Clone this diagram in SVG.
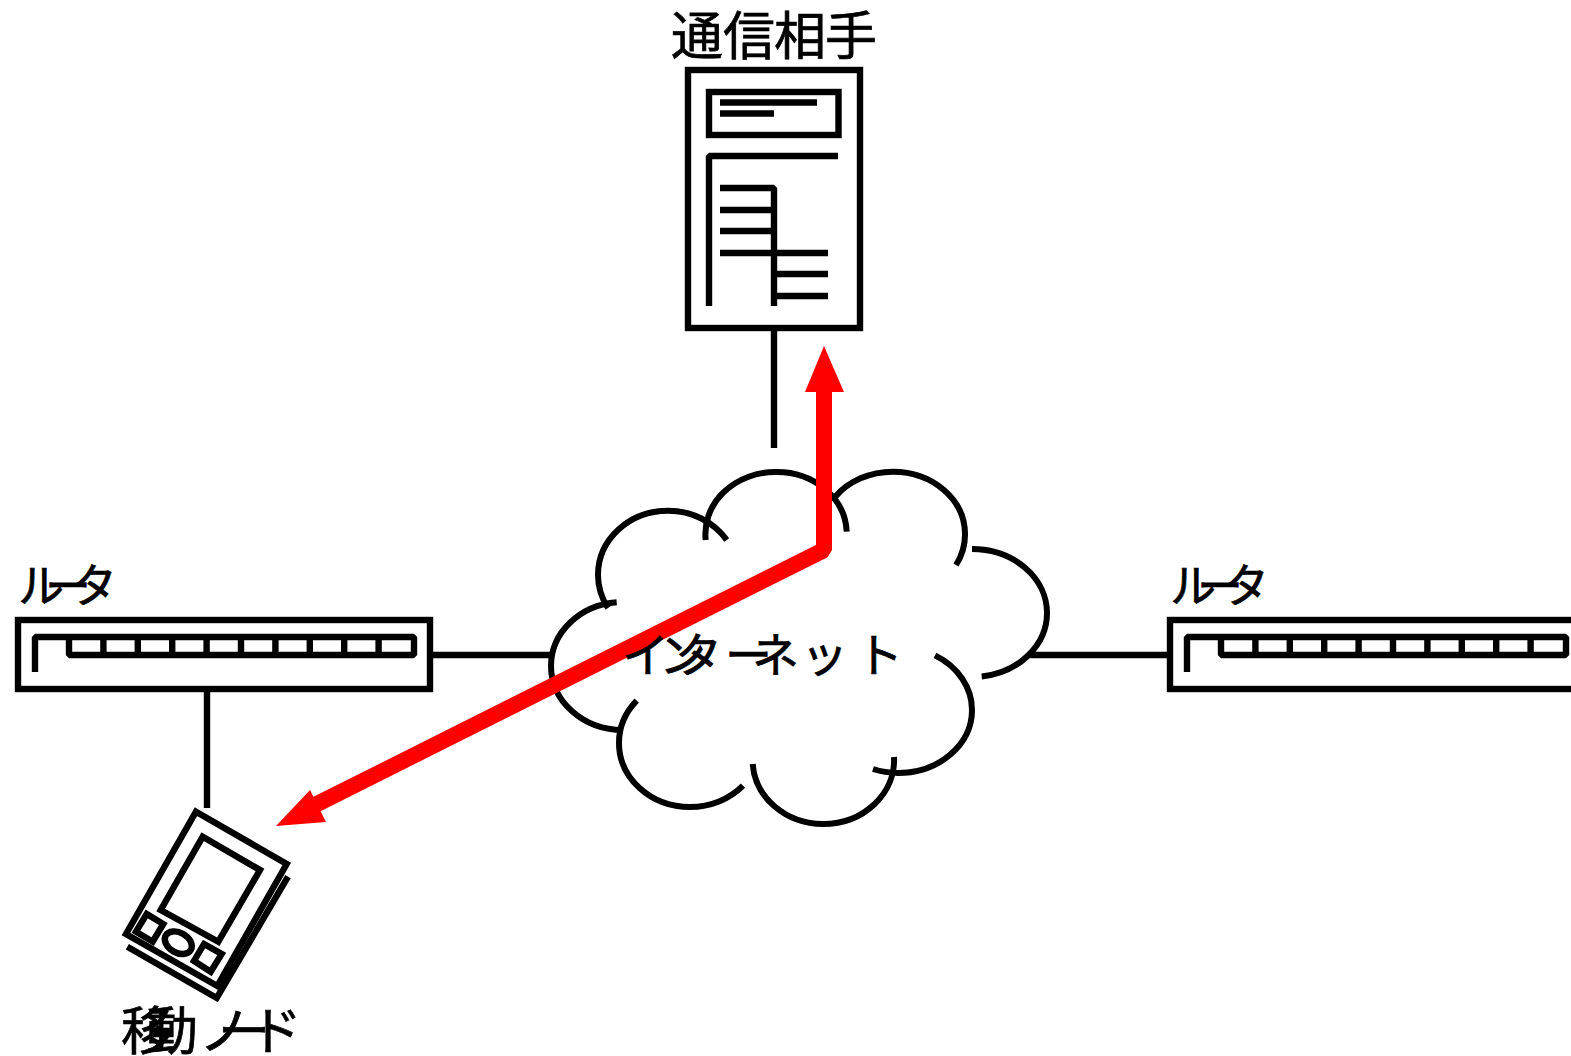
<svg xmlns="http://www.w3.org/2000/svg" width="1571" height="1056" viewBox="0 0 1571 1056">
<style>
.s{fill:none;stroke:#000;stroke-width:6.400}
.b{stroke-linejoin:bevel}
.c{fill:none;stroke:#000;stroke-width:6}
text{font-family:"Noto Sans CJK JP","Noto Sans",sans-serif;fill:#000;stroke:#000;stroke-width:.7}
.r{fill:#f00}
</style>
<defs>
<g id="router">
<rect class="s" x="18" y="620" width="412" height="69"/>
<path class="s b" d="M35 672V637H414V655H69V637M103.400 637V655M137.800 637V655M172.200 637V655M206.600 637V655M241 637V655M275.400 637V655M309.800 637V655M344.200 637V655M378.600 637V655"/>
<text font-size="46" y="602" x="18 45 71">ルータ</text>
</g>
</defs>
<rect width="1571" height="1056" fill="#fff"/>
<g id="connectors">
<path class="s" d="M774 328V448M433 655H550M207 689V808M1030 655H1170"/>
</g>
<g id="cloud">
<path class="c" d="M726.700 540A70 64.300 0 0 0 668 510.700A70 64.300 0 0 0 598 575A70 64.300 0 0 0 608 608"/>
<path class="c" d="M705.700 540A70 62 0 0 1 775 472A70 62 0 0 1 846.700 531.700"/>
<path class="c" d="M835 497A72 62.300 0 0 1 893 471.700A72 62.300 0 0 1 965 534A72 62.300 0 0 1 956 565"/>
<path class="c" d="M972 549A75 64 0 0 1 1047 613A75 64 0 0 1 981.700 676.500"/>
<path class="c" d="M935 655.400A74 63 0 0 1 972 710A74 63 0 0 1 898 773A74 63 0 0 1 873 769"/>
<path class="c" d="M894 757A71 64 0 0 1 823 824A71 64 0 0 1 752.700 764"/>
<path class="c" d="M743 785.600A71 64 0 0 1 690 807A71 64 0 0 1 619 743A71 64 0 0 1 636.700 700.700"/>
<path class="c" d="M616.700 602.200A72 64 0 0 0 551 666A72 64 0 0 0 623 730"/>
</g>
<g id="server">
<rect class="s" x="688" y="70" width="172" height="258"/>
<rect class="s" x="709" y="92" width="129.500" height="43"/>
<path class="s b" d="M720 102.500H817M720 113.500H774M709 306V156H838M720 188H774V306M720 210H774M720 231H774M720 253H828M774 274H828M774 296H828"/>
<text font-size="52" y="55" x="671 723 774 825">通信相手</text>
</g>
<g id="router-left"><use href="#router"/></g>
<g id="router-right"><use href="#router" x="1152"/></g>
<g id="mobile">
<path class="s" d="M196 811.700L286.700 864L217.300 986L126 934Z"/>
<path class="s" d="M288 876.700L216.700 998L127.300 946.700"/>
<path class="s" d="M202.700 836.700L260 870L218.300 941.700L160.700 910Z"/>
<path class="s" d="M146.700 914L163.300 924L152.700 941.700L136 931.700Z"/>
<path class="s" d="M204 944L221.700 954L210.700 971.700L194 961Z"/>
<ellipse class="s" cx="178.300" cy="942.700" rx="14.500" ry="10" transform="rotate(30 178.300 942.700)"/>
<text font-size="52" y="1050" x="121 146 199 218 250">移動ノード</text>
</g>
<g id="flows">
<path d="M824 392V550L315 805" fill="none" stroke="#f00" stroke-width="16" stroke-linejoin="bevel"/>
<path class="r" d="M824 346L844 392H805Z"/>
<path class="r" d="M276 826L310 790L326 822Z"/>
</g>
<g id="internet"><text font-size="47" y="672" x="622 659 675 725 752 801 856">インターネット</text></g>
</svg>
